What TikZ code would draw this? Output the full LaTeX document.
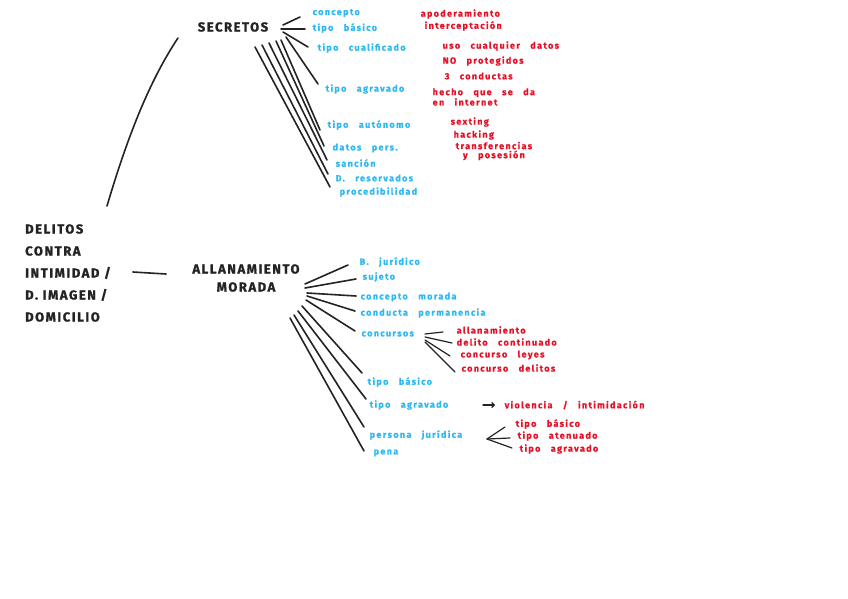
\documentclass[tikz,border=0pt]{standalone}
\usetikzlibrary{arrows.meta}
\usepackage{fontspec}
\setmainfont{Fira Sans}
\newfontfamily\blkfont[LetterSpace=12,FakeBold=1.2]{Fira Sans}
\newfontfamily\smfont[LetterSpace=15,WordSpace=3,FakeBold=0.8]{Fira Sans}
\definecolor{ink}{RGB}{35,35,35}
\definecolor{skyb}{RGB}{45,185,240}
\definecolor{redm}{RGB}{228,18,40}
\begin{document}
\begin{tikzpicture}[x=1pt,y=-1pt,
  blk/.style={font=\blkfont\fontsize{13}{22}\selectfont\bfseries, text=ink, inner sep=1pt},
  bl/.style={font=\smfont\fontsize{9}{9}\selectfont\bfseries, text=skyb, anchor=west, inner sep=0.5pt},
  rd/.style={font=\smfont\fontsize{9}{9}\selectfont\bfseries, text=redm, anchor=west, inner sep=0.5pt, align=left},
  ln/.style={draw=ink, line width=1.6pt, line cap=round},
  lnr/.style={draw=ink, line width=1.2pt, line cap=round}]
\useasboundingbox (0,0) rectangle (848,599);

% main nodes
\node[blk, align=left, anchor=west] (main) at (24,273) {DELITOS\\CONTRA\\INTIMIDAD /\\D. IMAGEN /\\DOMICILIO};
\node[blk] (sec) at (233,27) {SECRETOS};
\node[blk, align=center, font=\blkfont\fontsize{13}{18}\selectfont\bfseries] (all) at (246,278) {ALLANAMIENTO\\MORADA};

\coordinate (m1) at (107,206);
\coordinate (s0) at (178,38);
\draw[ln] (m1) .. controls (128,135) and (150,80) .. (s0);
\coordinate (m2) at (133,272);
\coordinate (a0) at (166,274);
\draw[ln] (m2) -- (a0);

% secretos branches
\node[bl] (t1) at (312,13) {concepto};
\node[bl] (t2) at (312,28) {tipo básico};
\node[bl] (t3) at (317,48) {tipo cualificado};
\node[bl] (t4) at (325,89) {tipo agravado};
\node[bl] (t5) at (327,125) {tipo autónomo};
\node[bl] (t6) at (332,148) {datos pers.};
\node[bl] (t7) at (335,163) {sanción};
\node[bl] (t8) at (335,178) {D. reservados};
\node[bl] (t9) at (339,192) {procedibilidad};

\coordinate (h1) at (283,25);
\coordinate (h2) at (281,29);
\coordinate (h3) at (283,32);
\coordinate (h4) at (286,37);
\coordinate (h5) at (281,40);
\coordinate (h6) at (276,41);
\coordinate (h7) at (269,43);
\coordinate (h8) at (262,45);
\coordinate (h9) at (255,47);
\coordinate (e1) at (300,17);
\coordinate (e2) at (305,29);
\coordinate (e3) at (308,47);
\coordinate (e4) at (318,84);
\coordinate (e5) at (320,130);
\coordinate (e6) at (324,146);
\coordinate (e7) at (327,160);
\coordinate (e8) at (328,174);
\coordinate (e9) at (330,187);
\foreach \i in {1,...,9} \draw[ln] (h\i) -- (e\i);

\node[rd] (r1) at (420,14) {apoderamiento};
\node[rd] (r2) at (424,26) {interceptación};
\node[rd] (r3) at (442,46) {uso cualquier datos};
\node[rd] (r4) at (442,61) {NO protegidos};
\node[rd] (r5) at (444,76) {3 conductas};
\node[rd] (r6) at (432,97) {hecho que se da\\en internet};
\node[rd] (r7) at (450,122) {sexting};
\node[rd] (r8) at (453,135) {hacking};
\node[rd, align=center] (r9) at (455,151) {transferencias\\y posesión};

% allanamiento branches
\node[bl] (u1) at (359,262) {B. jurídico};
\node[bl] (u2) at (362,277) {sujeto};
\node[bl] (u3) at (360,297) {concepto morada};
\node[bl] (u4) at (360,313) {conducta permanencia};
\node[bl] (u5) at (361,334) {concursos};
\node[bl] (u6) at (367,382) {tipo básico};
\node[bl] (u7) at (369,405) {tipo agravado};
\node[bl] (u8) at (369,435) {persona jurídica};
\node[bl] (u9) at (373,453) {pena};

\coordinate (k1) at (305,284);
\coordinate (k2) at (305,288);
\coordinate (k3) at (307,293);
\coordinate (k4) at (307,296);
\coordinate (k5) at (306,300);
\coordinate (k6) at (302,306);
\coordinate (k7) at (298,311);
\coordinate (k8) at (294,315);
\coordinate (k9) at (290,318);
\coordinate (f1) at (348,265);
\coordinate (f2) at (356,279);
\coordinate (f3) at (356,296);
\coordinate (f4) at (355,311);
\coordinate (f5) at (355,331);
\coordinate (f6) at (362,373);
\coordinate (f7) at (366,399);
\coordinate (f8) at (364,427);
\coordinate (f9) at (364,451);
\foreach \i in {1,...,9} \draw[ln] (k\i) -- (f\i);

% concursos
\node[rd] (c1) at (456,330) {allanamiento};
\node[rd] (c2) at (456,342) {delito continuado};
\node[rd] (c3) at (460,355) {concurso leyes};
\node[rd] (c4) at (461,368) {concurso delitos};
\coordinate (g1) at (425,334);
\coordinate (g2) at (425,337);
\coordinate (g3) at (425,340);
\coordinate (g4) at (425,342);
\coordinate (q1) at (443,332);
\coordinate (q2) at (452,343);
\coordinate (q3) at (450,356);
\coordinate (q4) at (455,372);
\foreach \i in {1,...,4} \draw[lnr] (g\i) -- (q\i);

% tipo agravado arrow
\node[rd] (v1) at (504,405) {violencia / intimidación};
\coordinate (w0) at (483,405);
\coordinate (w1) at (495,405);
\draw[lnr, -{Straight Barb[length=2.5pt,width=5pt]}] (w0) -- (w1);

% persona juridica
\node[rd] (p1) at (515,424) {tipo básico};
\node[rd] (p2) at (517,436) {tipo atenuado};
\node[rd] (p3) at (519,449) {tipo agravado};
\coordinate (pj) at (487,439);
\coordinate (pe1) at (505,427);
\coordinate (pe2) at (510,438);
\coordinate (pe3) at (512,448);
\foreach \i in {1,2,3} \draw[lnr] (pj) -- (pe\i);
\end{tikzpicture}
\end{document}
